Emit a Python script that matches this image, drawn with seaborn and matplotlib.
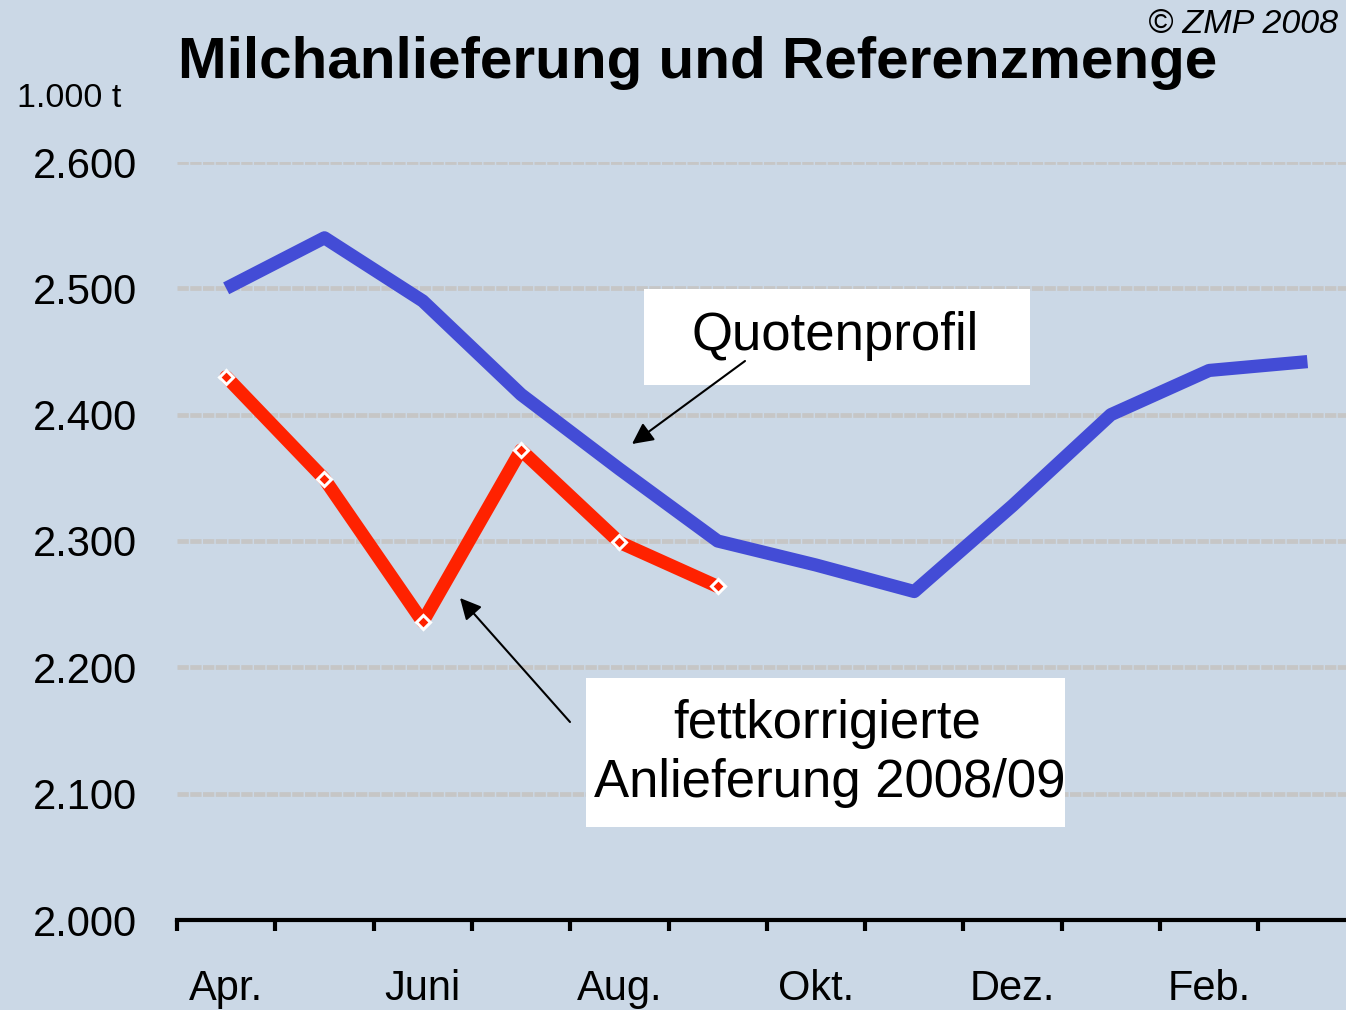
import numpy as np
import pandas as pd
import seaborn as sns
import matplotlib.pyplot as plt
from matplotlib.patches import Rectangle, FancyArrowPatch

# Daten (1.000 t)
monate = ["Apr.", "Mai", "Juni", "Juli", "Aug.", "Sep.", "Okt.", "Nov.", "Dez.", "Jan.", "Feb.", "März"]
quotenprofil = [2500, 2540, 2490, 2416, 2357, 2300, 2281, 2260, 2328, 2400, 2435, 2442]
anlieferung = [2430, 2349, 2236, 2372, 2299, 2264]
y_ticks = [2000, 2100, 2200, 2300, 2400, 2500, 2600]
y_labels = ["2.000", "2.100", "2.200", "2.300", "2.400", "2.500", "2.600"]

BG = "#CBD8E6"
BLAU = "#434CD6"
ROT = "#FF2200"

sns.set_style("white")
plt.rcParams["font.family"] = ["Liberation Sans", "DejaVu Sans"]
plt.rcParams["text.color"] = "black"
plt.rcParams["xtick.color"] = "black"
plt.rcParams["ytick.color"] = "black"
plt.rcParams["xtick.labelcolor"] = "black"
plt.rcParams["ytick.labelcolor"] = "black"

W, H = 1346, 1010
fig = plt.figure(figsize=(W / 100, H / 100), dpi=100, facecolor=BG)
ax = fig.add_axes([177 / W, 1 - 920 / H, 1 - 177 / W, (920 - 162) / H])
ax.set_facecolor(BG)

df_q = pd.DataFrame({"pos": np.arange(len(quotenprofil)), "wert": quotenprofil})
df_a = pd.DataFrame({"pos": np.arange(len(anlieferung)), "wert": anlieferung})

# Gitternetz
for t in y_ticks[1:]:
    ax.axhline(t, color="#C6C6C6", lw=3.4, ls=(0, (2.4, 0.3)), zorder=0)

sns.lineplot(data=df_q, x="pos", y="wert", ax=ax, color=BLAU, lw=9.5,
             solid_joinstyle="round", solid_capstyle="butt", zorder=3)
sns.lineplot(data=df_a, x="pos", y="wert", ax=ax, color=ROT, lw=9.5,
             marker="D", markersize=7, markerfacecolor=ROT, markeredgecolor="white",
             markeredgewidth=2.2, solid_joinstyle="round", zorder=4)

ax.set_xlim(-0.5, -0.5 + (W - 177) / 98.3)
ax.set_ylim(2000, 2600)
ax.set_xlabel("")
ax.set_ylabel("")

# x-Achse: Striche zwischen den Monaten, Beschriftung jeden 2. Monat
ax.set_xticks(np.arange(len(monate)) - 0.5)
ax.set_xticklabels([])
ax.set_xticks(np.arange(0, len(monate), 2), minor=True)
ax.set_xticklabels(monate[::2], minor=True, fontsize=30)
ax.tick_params(axis="x", which="major", direction="out", length=8, width=3, color="black", bottom=True)
ax.tick_params(axis="x", which="minor", length=0, pad=35)

ax.set_yticks(y_ticks)
ax.set_yticklabels(y_labels, fontsize=30)
ax.tick_params(axis="y", length=0, pad=29)

for s in ["top", "right", "left"]:
    ax.spines[s].set_visible(False)
ax.spines["bottom"].set_linewidth(3)
ax.spines["bottom"].set_color("black")


def fx(x):
    return x / W


def fy(y):
    return 1 - y / H


fig.text(fx(178), fy(78), "Milchanlieferung und Referenzmenge", fontsize=42,
         fontweight="bold", ha="left", va="baseline")
fig.text(fx(1338), fy(33), "© ZMP 2008", fontsize=24.5, style="italic",
         ha="right", va="baseline")
fig.text(fx(17), fy(107), "1.000 t", fontsize=24.5, ha="left", va="baseline")

# Textkästen
fig.patches.append(Rectangle((fx(644), fy(385)), (1030 - 644) / W, (385 - 289) / H,
                             transform=fig.transFigure, facecolor="white", edgecolor="none", zorder=5))
fig.patches.append(Rectangle((fx(586), fy(827)), (1065 - 586) / W, (827 - 678) / H,
                             transform=fig.transFigure, facecolor="white", edgecolor="none", zorder=5))
fig.text(fx(835), fy(350), "Quotenprofil", fontsize=38, ha="center", va="baseline", zorder=6)
fig.text(fx(827), fy(738), "fettkorrigierte", fontsize=38, ha="center", va="baseline", zorder=6)
fig.text(fx(830), fy(797), "Anlieferung 2008/09", fontsize=38, ha="center", va="baseline", zorder=6)

# Pfeile
for (x0, y0), (x1, y1) in [((745, 361), (632, 444)), ((570, 722), (460, 598))]:
    fig.patches.append(FancyArrowPatch((fx(x0), fy(y0)), (fx(x1), fy(y1)),
                                       transform=fig.transFigure, arrowstyle="-|>",
                                       mutation_scale=32, lw=1.5, color="black",
                                       shrinkA=0, shrinkB=0, zorder=7))

fig.savefig("out.png", dpi=100, facecolor=BG)
